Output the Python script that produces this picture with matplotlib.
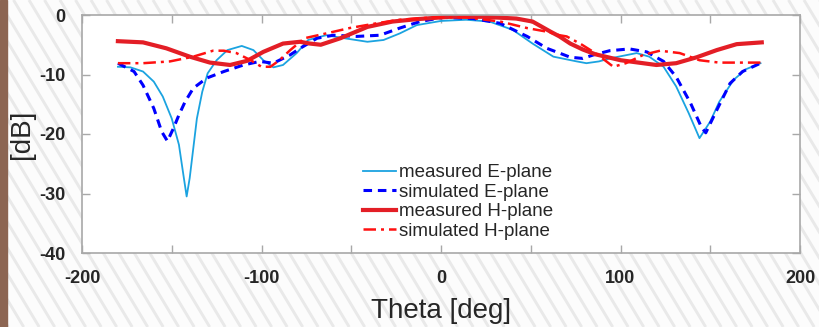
import numpy as np
import matplotlib
matplotlib.use("Agg")
import matplotlib.pyplot as plt

plt.rcParams['font.family'] = ['Liberation Sans', 'DejaVu Sans']
plt.rcParams['axes.unicode_minus'] = False

# measured E-plane (thin light blue)
theta_me = [-180, -173, -166, -160, -155, -150, -146, -143.5, -141.7, -140, -138, -136,
            -133, -130, -125, -119, -111, -104.5, -99, -93.4, -88, -80.4, -74, -64, -54,
            -41, -32, -23, -13.5, 0, 14, 27, 40, 51, 62.6, 75.6, 81, 88, 94, 109, 116,
            124, 131, 138, 144, 150, 155, 163, 170, 178]
db_me = [-8.7, -8.8, -9.5, -11.2, -13.7, -17.4, -21.8, -26.9, -30.5, -27.4, -22.4, -17.4,
         -12.9, -9.8, -7.6, -5.9, -5.2, -5.9, -7.6, -8.8, -8.4, -6.4, -4.2, -3.4, -3.9,
         -4.5, -4.2, -3.1, -1.7, -1.0, -0.8, -1.1, -2.5, -4.8, -7.0, -7.8, -8.1, -7.8, -7.3, -6.4, -7.0,
         -8.7, -12.0, -16.5, -20.7, -17.9, -14.6, -10.9, -9.1, -8.1]

# simulated E-plane (blue dashed)
theta_se = [-180, -171, -166, -160, -155.6, -152.4, -149, -146, -142.6, -138, -130.5, -121,
            -110, -101, -93.4, -84, -78.5, -74, -69, -60, -47, -34, -23, -11.7, 1.3, 18,
            33, 48, 59, 66, 72, 79, 85, 94, 105, 114.6, 124, 131, 139, 145, 147.5, 153.6,
            161, 168, 178]
db_se = [-8.1, -9.5, -11.8, -15.7, -19.6, -21.2, -19.0, -16.8, -14.6, -12.3, -10.6, -9.5,
         -8.4, -7.8, -8.1, -6.7, -5.6, -4.8, -3.9, -3.4, -3.6, -3.4, -2.2, -1.1, -0.4, -0.6,
         -1.4, -3.6, -5.6, -6.4, -7.1, -7.3, -6.7, -6.0, -5.7, -6.2, -7.8, -10.4, -14.8, -18.8, -19.8, -16.0,
         -11.5, -9.5, -8.1]

# measured H-plane (thick red)
theta_mh = [-180, -166, -153, -140, -128.7, -117.5, -108, -99, -88, -78.5, -73, -67, -56,
            -41, -27, -13.5, 5, 23, 42, 51, 61, 66, 72, 79, 86, 100, 120, 131, 142.5,
            153.6, 164.7, 178.7]
db_mh = [-4.4, -4.6, -5.6, -7.0, -8.0, -8.4, -7.7, -6.2, -4.8, -4.5, -4.8, -5.0, -3.9,
         -2.0, -1.1, -0.7, -0.3, -0.3, -0.6, -1.1, -2.8, -3.6, -4.8, -5.8, -6.6, -7.6, -8.4, -8.1, -7.1,
         -5.9, -4.9, -4.6]

# simulated H-plane (red dash-dot)
theta_sh = [-180, -166, -151, -138, -127, -121, -114, -106, -100, -95, -90, -84, -76, -64,
            -51, -36, -23, -4.5, 14, 33, 48, 59, 66, 70, 78, 87, 96, 103, 112.7, 122, 133,
            144, 155, 178]
db_sh = [-8.1, -8.1, -7.8, -7.0, -6.0, -6.0, -6.4, -7.6, -8.7, -8.7, -7.6, -5.9, -3.9, -3.1,
         -2.2, -1.4, -0.8, -0.4, -0.4, -1.1, -2.2, -2.8, -3.4, -3.6, -4.9, -6.6, -8.7, -8.1, -6.7, -6.0, -6.4,
         -7.6, -8.0, -8.0]

W, H = 819, 327
fig = plt.figure(figsize=(W / 100, H / 100), dpi=100)
fig.patch.set_facecolor('#fcfcfc')

# striped background
bg = fig.add_axes([0, 0, 1, 1], zorder=-10)
bg.set_xlim(0, W)
bg.set_ylim(H, 0)
bg.axis('off')
for x0 in np.arange(-250, W + 20, 15.5):
    bg.plot([x0, x0 + 0.6 * H], [0, H], color='#e9e9e9', lw=2.1, solid_capstyle='butt')
bg.add_patch(plt.Rectangle((0, 0), 7, H, color='#8c6552', zorder=5))

ax = fig.add_axes([82 / W, 1 - 253 / H, (800 - 82) / W, (253 - 15) / H])
ax.set_facecolor('white')

ax.plot(theta_me, db_me, color='#1ba3e0', lw=1.3, label='measured E-plane')
ax.plot(theta_se, db_se, color='#0000ff', lw=2.2, ls=(0, (2.8, 1.9)), label='simulated E-plane')
ax.plot(theta_mh, db_mh, color='#e31e26', lw=3.0, label='measured H-plane')
ax.plot(theta_sh, db_sh, color='#ff1010', lw=1.8, ls=(0, (5, 2, 1.2, 2)), label='simulated H-plane')

ax.set_xlim(-200, 200)
ax.set_ylim(-40, 0)
ax.set_xticks(np.arange(-200, 201, 50))
ax.set_xticklabels([str(v) if v % 100 == 0 else '' for v in range(-200, 201, 50)])
ax.set_yticks([0, -10, -20, -30, -40])

for s in ax.spines.values():
    s.set_color('#a8a8a8')
    s.set_linewidth(1.2)
ax.tick_params(direction='in', length=6, width=1, color='#a8a8a8',
               top=True, right=True, labelcolor='#262626', labelsize=13)
ax.tick_params(axis='x', pad=12)
ax.tick_params(axis='y', pad=12)
for lab in ax.get_xticklabels() + ax.get_yticklabels():
    lab.set_fontweight('bold')

ax.set_xlabel('Theta [deg]', fontsize=20, color='#262626', labelpad=8)
ax.set_ylabel('[dB]', fontsize=20, color='#262626', labelpad=3)

ax.legend(loc='upper left', bbox_to_anchor=(363 / W, 1 - 164 / H), bbox_transform=fig.transFigure,
          frameon=False, fontsize=13.5, handlelength=1.75, handletextpad=0.15,
          labelspacing=0.13, borderpad=0, borderaxespad=0, labelcolor='#262626')

fig.savefig('out.png', dpi=100, facecolor=fig.get_facecolor())
